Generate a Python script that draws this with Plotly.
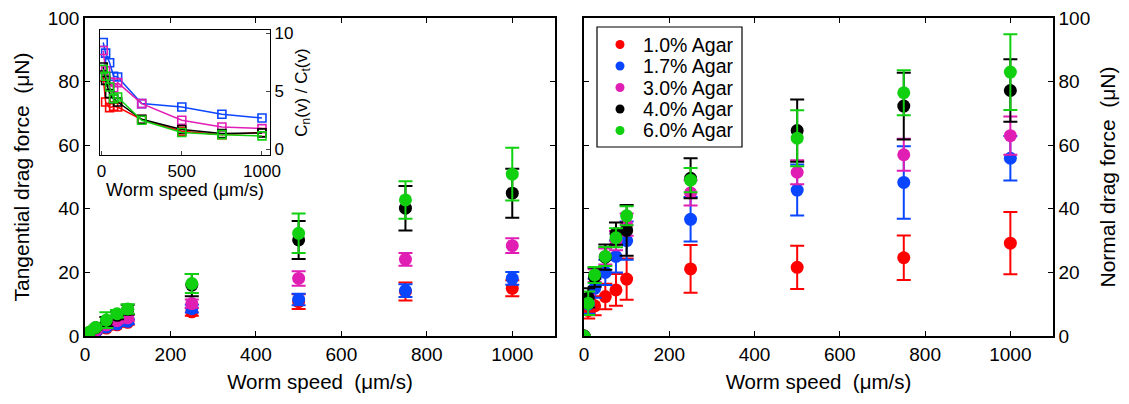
import plotly.graph_objects as go

# ---- data ----
speeds = [0, 10, 25, 50, 75, 100, 250, 500, 750, 1000]
labels = ["1.0% Agar", "1.7% Agar", "3.0% Agar", "4.0% Agar", "6.0% Agar"]
colors = ["#FF0000", "#0A46FF", "#E01EB4", "#000000", "#10D010"]

tang_red = [0, 0.5, 1.2, 2.5, 3.5, 4.3, 7.6, 10.8, 14.0, 15.0]
tang_blue = [0, 0.6, 1.3, 2.8, 3.8, 4.6, 8.6, 11.5, 14.3, 18.1]
tang_mag = [0, 0.8, 1.8, 3.5, 4.8, 5.7, 10.2, 18.1, 24.1, 28.4]
tang_black = [0, 1.1, 2.6, 4.5, 6.5, 8.3, 16.0, 30.2, 40.2, 44.9]
tang_green = [0, 1.2, 2.7, 5.0, 7.0, 8.5, 16.5, 32.3, 42.8, 50.9]

tang_err_red = [0, 0.2, 0.3, 0.5, 0.6, 0.8, 1.2, 2.3, 2.8, 2.5]
tang_err_blue = [0, 0.2, 0.3, 0.5, 0.6, 0.8, 1.2, 1.8, 2.0, 2.0]
tang_err_mag = [0, 0.2, 0.4, 0.6, 0.8, 0.9, 1.3, 2.3, 2.0, 2.3]
tang_err_black = [0, 0.3, 0.5, 1.5, 1.2, 1.5, 3.5, 6.0, 7.0, 7.7]
tang_err_green = [0, 0.3, 0.6, 2.5, 1.2, 1.5, 3.0, 6.2, 5.9, 8.3]

norm_red = [0, 8.0, 9.5, 12.4, 14.5, 17.9, 21.1, 21.6, 24.6, 29.2]
norm_blue = [0, 10.0, 15.0, 20.0, 25.0, 30.0, 36.7, 45.9, 48.3, 55.9]
norm_mag = [0, 11.0, 19.0, 25.0, 30.0, 35.0, 45.0, 51.5, 57.0, 63.0]
norm_black = [0, 12.0, 18.5, 24.8, 32.2, 33.2, 49.6, 64.6, 72.3, 77.2]
norm_green = [0, 10.3, 19.2, 25.0, 30.9, 37.8, 49.0, 62.2, 76.5, 83.0]

norm_err_red = [0, 2.5, 3.0, 4.0, 5.0, 6.5, 7.5, 6.8, 7.0, 9.8]
norm_err_blue = [0, 3.0, 3.0, 4.0, 5.0, 6.0, 7.0, 8.0, 11.4, 7.0]
norm_err_mag = [0, 2.0, 2.0, 2.5, 3.0, 3.5, 4.0, 3.8, 5.0, 6.0]
norm_err_black = [0, 3.0, 3.0, 4.0, 3.5, 8.0, 6.3, 9.8, 10.5, 9.8]
norm_err_green = [0, 3.7, 2.5, 3.0, 3.0, 3.0, 3.8, 8.8, 7.1, 11.9]

ratio_speeds = [10, 25, 50, 75, 100, 250, 500, 750, 1000]
ratio_red = [6.24, 4.08, 3.59, 3.71, 3.65, 2.56, 1.55, 1.26, 1.44]
ratio_blue = [9.22, 8.3, 7.47, 6.3, 6.24, 3.94, 3.65, 3.02, 2.7]
ratio_mag = [8.53, 6.8, 5.8, 5.3, 5.75, 3.94, 2.5, 1.92, 1.78]
ratio_black = [7.1, 5.95, 4.8, 4.37, 4.08, 2.59, 1.7, 1.35, 1.41]
ratio_green = [6.9, 6.3, 5.37, 4.37, 4.51, 2.5, 1.44, 1.26, 1.15]

tang = [tang_red, tang_blue, tang_mag, tang_black, tang_green]
tang_err = [tang_err_red, tang_err_blue, tang_err_mag, tang_err_black, tang_err_green]
norm = [norm_red, norm_blue, norm_mag, norm_black, norm_green]
norm_err = [norm_err_red, norm_err_blue, norm_err_mag, norm_err_black, norm_err_green]
ratio = [ratio_red, ratio_blue, ratio_mag, ratio_black, ratio_green]

FONT = "Liberation Sans, Arial, Helvetica, sans-serif"
NB = "\u00a0\u00a0"

# page body has an 8px margin -> figure is offset by 8px
W, H = 1121, 396
OFF = 8


def fx(px):
    return (px - OFF) / W


PLOT_TOP, PLOT_BOT = 18 - OFF, 336 - OFF
PH = PLOT_BOT - PLOT_TOP


def fy(py):
    return (PLOT_BOT - (py - OFF)) / PH


fig = go.Figure()

for i in range(5):
    fig.add_trace(go.Scatter(
        x=speeds, y=tang[i], mode="markers", xaxis="x", yaxis="y",
        marker=dict(color=colors[i], size=13),
        error_y=dict(type="data", array=tang_err[i], color=colors[i], thickness=2, width=7),
        showlegend=False, name=labels[i]))

for i in range(5):
    fig.add_trace(go.Scatter(
        x=speeds, y=norm[i], mode="markers", xaxis="x2", yaxis="y2",
        marker=dict(color=colors[i], size=13),
        error_y=dict(type="data", array=norm_err[i], color=colors[i], thickness=2, width=7),
        showlegend=False, name=labels[i]))

for i in range(5):
    fig.add_trace(go.Scatter(
        x=ratio_speeds, y=ratio[i], mode="lines+markers", xaxis="x3", yaxis="y3",
        line=dict(color=colors[i], width=1.5),
        marker=dict(symbol="square-open", color=colors[i], size=8, line=dict(width=1.6)),
        showlegend=False, name=labels[i]))

axis_common = dict(showline=True, linecolor="black", linewidth=1.5, mirror="ticks",
                   ticks="inside", ticklen=5, tickcolor="black", showgrid=False,
                   zeroline=False, ticklabeloverflow="allow",
                   tickfont=dict(size=19, color="black", family=FONT))

# ---- manual legend (compact spacing like the original) ----
shapes = [dict(type="rect", xref="paper", yref="paper",
               x0=fx(597), x1=fx(742), y0=fy(147), y1=fy(27),
               line=dict(color="black", width=1.2), fillcolor="white", layer="above")]
annotations = []
LEG_Y0, LEG_DY = 44.5, 21.5
for i, (lab, col) in enumerate(zip(labels, colors)):
    cy = LEG_Y0 + i * LEG_DY
    shapes.append(dict(type="circle", xref="paper", yref="paper",
                       x0=fx(620 - 4.5), x1=fx(620 + 4.5), y0=fy(cy + 4.5), y1=fy(cy - 4.5),
                       fillcolor=col, line=dict(color=col, width=0), layer="above"))
    annotations.append(dict(xref="paper", yref="paper", x=fx(641), y=fy(cy),
                            xanchor="left", yanchor="middle", text=lab, showarrow=False,
                            font=dict(size=19.5, family=FONT, color="black")))

fig.update_layout(
    width=W, height=H,
    margin=dict(l=0, r=0, t=PLOT_TOP, b=H - PLOT_BOT, autoexpand=False),
    paper_bgcolor="white", plot_bgcolor="white",
    font=dict(family=FONT, color="black"),
    showlegend=False,
    shapes=shapes, annotations=annotations,
    xaxis=dict(domain=[fx(85), fx(555)], range=[0, 1100], tickvals=[0, 200, 400, 600, 800, 1000],
               title=dict(text="Worm speed" + NB + "(μm/s)", font=dict(size=20.5), standoff=11), anchor="y",
               **axis_common),
    yaxis=dict(domain=[0, 1], range=[0, 100], tickvals=[0, 20, 40, 60, 80, 100],
               title=dict(text="Tangential drag force" + NB + "(μN)", font=dict(size=21), standoff=12),
               anchor="x", **axis_common),
    xaxis2=dict(domain=[fx(584), fx(1053)], range=[0, 1100], tickvals=[0, 200, 400, 600, 800, 1000],
                title=dict(text="Worm speed" + NB + "(μm/s)", font=dict(size=20.5), standoff=11), anchor="y2",
                **axis_common),
    yaxis2=dict(domain=[0, 1], range=[0, 100], tickvals=[0, 20, 40, 60, 80, 100], side="right",
                title=dict(text="Normal drag force" + NB + "(μN)", font=dict(size=21), standoff=11),
                anchor="x2", **axis_common),
    xaxis3=dict(domain=[fx(100), fx(270)], range=[-10, 1050], tickvals=[0, 500, 1000],
                showline=True, linecolor="black", linewidth=1.2, mirror=True,
                ticks="inside", ticklen=4, showgrid=False, zeroline=False,
                tickfont=dict(size=17, color="black", family=FONT),
                title=dict(text="Worm speed (μm/s)", font=dict(size=18), standoff=2), anchor="y3"),
    yaxis3=dict(domain=[fy(155), fy(30)], range=[-0.5, 10.3], tickvals=[0, 5, 10],
                side="right", showline=True, linecolor="black", linewidth=1.2, mirror=True,
                ticks="inside", ticklen=4, showgrid=False, zeroline=False,
                tickfont=dict(size=17, color="black", family=FONT),
                title=dict(text="C<sub>n</sub>(v) / C<sub>t</sub>(v)", font=dict(size=17), standoff=2),
                anchor="x3"),
)

fig.write_html("out.html")
